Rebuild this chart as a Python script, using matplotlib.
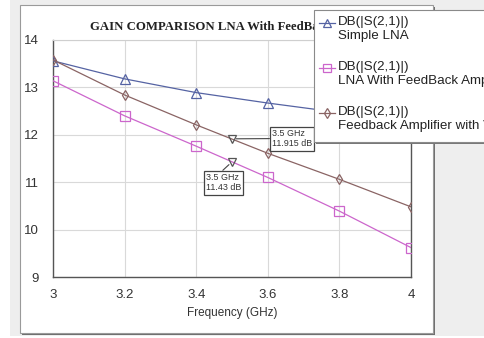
import matplotlib
matplotlib.use("Agg")
import matplotlib.pyplot as plt
from matplotlib.patches import Rectangle
from matplotlib.lines import Line2D

# frequency points (GHz) and gain (dB)
freq = [3.0, 3.2, 3.4, 3.6, 3.8, 4.0]
simple_lna = [13.56, 13.18, 12.89, 12.67, 12.47, 12.29]
lna_feedback = [13.14, 12.40, 11.76, 11.10, 10.39, 9.62]
feedback_amp = [13.58, 12.84, 12.21, 11.61, 11.06, 10.48]

# marker readouts at 3.5 GHz
mark_freq = 3.5
mark_fb_amp = 11.915
mark_lna_fb = 11.43

xticks = [3, 3.2, 3.4, 3.6, 3.8, 4]
yticks = [9, 10, 11, 12, 13, 14]

c_blue = '#5563a3'
c_mag = '#cc66cc'
c_brown = '#8a6464'

W, H = 484, 338
def fx(px):
    return px / W
def fy(py):
    return 1 - py / H

plt.rcParams['font.family'] = ['Liberation Sans', 'DejaVu Sans']

fig = plt.figure(figsize=(4.84, 3.38), dpi=100, facecolor='white')

# grey window background and white chart panel with shadow
fig.add_artist(Rectangle((fx(10), fy(336)), 1, fy(0) - fy(336), transform=fig.transFigure,
                         facecolor='#eeeeee', edgecolor='none', zorder=-3))
fig.add_artist(Rectangle((fx(22), fy(335)), fx(413), fy(7) - fy(335), transform=fig.transFigure,
                         facecolor='#6e6e6e', edgecolor='none', zorder=-2))
fig.add_artist(Rectangle((fx(20), fy(333)), fx(413), fy(5) - fy(333), transform=fig.transFigure,
                         facecolor='white', edgecolor='#9a9a9a', lw=0.8, zorder=-1))

ax = fig.add_axes([fx(53), fy(277), fx(411) - fx(53), fy(40) - fy(277)])
ax.set_facecolor('white')

ax.plot(freq, simple_lna, color=c_blue, lw=0.9, marker='^', ms=6.5,
        mfc='none', mec=c_blue, mew=0.9, zorder=3)
ax.plot(freq, lna_feedback, color=c_mag, lw=0.9, marker='s', ms=7,
        mfc='none', mec=c_mag, mew=0.9, zorder=3)
ax.plot(freq, feedback_amp, color=c_brown, lw=0.9, marker='d', ms=5.5,
        mfc='none', mec=c_brown, mew=0.9, zorder=3)

# marker triangles at 3.5 GHz
ax.plot([mark_freq, mark_freq], [mark_fb_amp, mark_lna_fb], ls='none', marker='v', ms=6,
        mfc='none', mec='#555555', mew=0.9, zorder=4)

ax.annotate('3.5 GHz\n%.3f dB' % mark_fb_amp, xy=(mark_freq, mark_fb_amp),
            xytext=(3.612, 11.92), ha='left', va='center', fontsize=6.4,
            color='#333333', linespacing=1.2,
            bbox=dict(boxstyle='square,pad=0.25', fc='white', ec='#444444', lw=0.9),
            arrowprops=dict(arrowstyle='-', color='#444444', lw=0.8,
                            relpos=(0, 0.5), shrinkA=0, shrinkB=3), zorder=5)
ax.annotate('3.5 GHz\n%.2f dB' % mark_lna_fb, xy=(mark_freq, mark_lna_fb),
            xytext=(3.427, 10.99), ha='left', va='center', fontsize=6.4,
            color='#333333', linespacing=1.2,
            bbox=dict(boxstyle='square,pad=0.25', fc='white', ec='#444444', lw=0.9),
            arrowprops=dict(arrowstyle='-', color='#444444', lw=0.8,
                            relpos=(0.4, 1), shrinkA=0, shrinkB=3), zorder=5)

ax.set_xlim(3, 4)
ax.set_ylim(9, 14)
ax.set_xticks(xticks)
ax.set_xticklabels(['3', '3.2', '3.4', '3.6', '3.8', '4'])
ax.set_yticks(yticks)
ax.grid(True, color='#d9d9d9', lw=0.8)
ax.tick_params(length=0, labelsize=9.5, colors='#333333')
ax.tick_params(axis='x', pad=9)
ax.tick_params(axis='y', pad=10)
for s in ['left', 'bottom', 'right']:
    ax.spines[s].set_color('#555555')
    ax.spines[s].set_linewidth(1.0)
ax.spines['top'].set_color('#cfcfcf')
ax.set_xlabel('Frequency (GHz)', fontsize=8.5, color='#333333', labelpad=4)

fig.text(fx(90), fy(27), 'GAIN COMPARISON LNA With FeedBack', ha='left', va='center',
         fontsize=9.2, fontweight='bold', family=['Liberation Serif', 'DejaVu Serif'],
         color='#222222', zorder=5)

# legend box (partly outside the picture, as in the screenshot)
fig.add_artist(Rectangle((fx(316), fy(144)), fx(300), fy(12) - fy(144), transform=fig.transFigure,
                         facecolor='#777777', edgecolor='none', zorder=9))
fig.add_artist(Rectangle((fx(314), fy(142)), fx(300), fy(10) - fy(142), transform=fig.transFigure,
                         facecolor='white', edgecolor='#8a8a8a', lw=0.8, zorder=10))

entries = [
    (c_blue, '^', 6, 'DB(|S(2,1)|)\nSimple LNA', 23),
    (c_mag, 's', 6, 'DB(|S(2,1)|)\nLNA With FeedBack Amplifier', 68),
    (c_brown, 'd', 5, 'DB(|S(2,1)|)\nFeedback Amplifier with Varactor', 113),
]
for col, mk, ms, label, ytop in entries:
    fig.add_artist(Line2D([fx(319), fx(335)], [fy(ytop), fy(ytop)], transform=fig.transFigure,
                          color=col, lw=0.9, zorder=11))
    fig.add_artist(Line2D([fx(327)], [fy(ytop)], transform=fig.transFigure, marker=mk, ms=ms,
                          mfc='none', mec=col, mew=0.9, zorder=11))
    fig.text(fx(338), fy(ytop - 7), label, ha='left', va='top', fontsize=9.6, color='#222222',
             linespacing=1.2, zorder=12)

fig.savefig('out.png', dpi=100, facecolor=fig.get_facecolor())
